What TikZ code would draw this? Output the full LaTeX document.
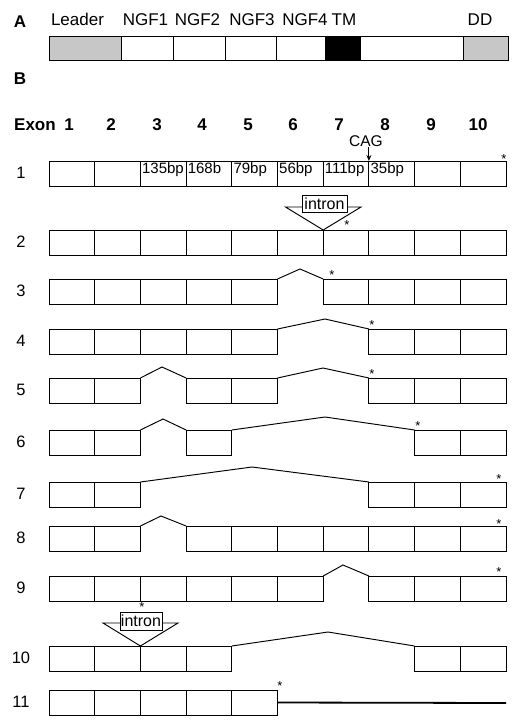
\documentclass[tikz,border=0pt]{standalone}
\usepackage{fontspec}
\setmainfont{Liberation Sans}
\usetikzlibrary{arrows.meta,calc}
\newcommand\exonrow[3]{%
  \foreach \i in {#3}{\node[exon] (r#1e\i) at ({49+45.7*(\i-1)},#2) {};}}
\begin{document}
\begin{tikzpicture}[x=1pt,y=-1pt,
  exon/.style={draw,line width=0.95pt,minimum width=45.7pt,minimum height=25pt,inner sep=0pt,outer sep=0pt,anchor=north west},
  seg/.style={draw,line width=0.95pt,minimum height=24pt,inner sep=0pt,outer sep=0pt,anchor=north west},
  lbl/.style={font=\fontsize{17}{17}\selectfont,anchor=base,inner sep=0pt},
  bld/.style={font=\bfseries\fontsize{17}{17}\selectfont,anchor=base,inner sep=0pt},
  rowlbl/.style={font=\fontsize{16.5}{16.5}\selectfont,anchor=base,inner sep=0pt},
  bp/.style={font=\fontsize{15}{15}\selectfont,anchor=north west,inner sep=0pt},
  star/.style={font=\fontsize{13}{13}\selectfont,inner sep=0pt,anchor=north},
  splice/.style={line width=0.95pt},
  intronbox/.style={draw,fill=white,line width=0.95pt,font=\fontsize{16}{16}\selectfont,minimum height=17pt,inner sep=0pt},
]
\useasboundingbox (0,0) rectangle (525,727);

% ---------- Panel A ----------
\node[bld] (A) at (20,28) {A};
\node[seg,fill=black!22,minimum width=72pt] (lead) at (49,36) {};
\node[seg,minimum width=52pt] (ngf1) at (lead.north east) {};
\node[seg,minimum width=52pt] (ngf2) at (ngf1.north east) {};
\node[seg,minimum width=51pt] (ngf3) at (ngf2.north east) {};
\node[seg,minimum width=49pt] (ngf4) at (ngf3.north east) {};
\node[seg,fill=black,minimum width=35pt] (tm) at (ngf4.north east) {};
\node[seg,minimum width=103pt] (mid) at (tm.north east) {};
\node[seg,fill=black!22,minimum width=45pt] (dd) at (mid.north east) {};
\node[lbl] (tLeader) at (77.5,25.7) {Leader};
\node[lbl] (tN1) at (145.5,25.7) {NGF1};
\node[lbl] (tN2) at (197.5,25.7) {NGF2};
\node[lbl] (tN3) at (252,25.7) {NGF3};
\node[lbl] (tN4) at (305,25.7) {NGF4};
\node[lbl] (tTM) at (344,25.7) {TM};
\node[lbl] (tDD) at (480,25.7) {DD};

% ---------- Panel B ----------
\node[bld] (B) at (20,85) {B};
\node[bld,anchor=base west] (exon) at (14,131) {Exon};
\foreach \n/\x in {1/69,2/111,3/157,4/202,5/248,6/293,7/339,8/385,9/431,10/478}
  \node[bld] (h\n) at (\x,131) {\n};

% row labels
\foreach \r/\y in {1/161,2/230,3/279,4/329,5/378,6/430,7/482,8/526,9/576,10/646,11/690}
  \node[rowlbl] (rl\r) at (21,\y+17.5) {\r};

% exon rows
\exonrow{1}{161}{1,...,10}
\exonrow{2}{230}{1,...,10}
\exonrow{3}{279}{1,2,3,4,5,7,8,9,10}
\exonrow{4}{329}{1,2,3,4,5,8,9,10}
\exonrow{5}{378}{1,2,4,5,8,9,10}
\exonrow{6}{430}{1,2,4,9,10}
\exonrow{7}{482}{1,2,8,9,10}
\exonrow{8}{526}{1,2,4,5,6,7,8,9,10}
\exonrow{9}{576}{1,2,3,4,5,6,8,9,10}
\exonrow{10}{646}{1,2,3,4,9,10}
\exonrow{11}{690}{1,2,3,4,5}

% row 1 sizes
\node[bp] (bp3) at ($(r1e3.north west)+(1.5,1.8)$) {135bp};
\node[bp] (bp4) at ($(r1e4.north west)+(1.5,1.8)$) {168b};
\node[bp] (bp5) at ($(r1e5.north west)+(1.5,1.8)$) {79bp};
\node[bp] (bp6) at ($(r1e6.north west)+(1.5,1.8)$) {56bp};
\node[bp] (bp7) at ($(r1e7.north west)+(1.5,1.8)$) {111bp};
\node[bp] (bp8) at ($(r1e8.north west)+(1.5,1.8)$) {35bp};
\node[lbl,font=\fontsize{15.5}{15.5}\selectfont] (cag) at (366,147) {CAG};
\draw[line width=0.95pt,-{Stealth[length=6pt,width=5pt]}] (cag.south -| r1e8.north west) -- (r1e8.north west);

% row 2 intron insertion
\coordinate (r2tl) at (285.5,207);
\coordinate (r2tr) at (361,207);
\draw[splice] (r2tl) -- (r2e6.north east) -- (r2tr) -- cycle;
\node[intronbox,minimum width=45pt] (in2) at (324.5,203.5) {intron};

% row 10 intron insertion
\coordinate (r10tl) at (103,623);
\coordinate (r10tr) at (178,623);
\draw[splice] (r10tl) -- (r10e2.north east) -- (r10tr) -- cycle;
\node[intronbox,minimum width=42pt,minimum height=18pt] (in10) at (141,621) {intron};

% splice connectors
\coordinate (p3) at (300,269);
\draw[splice] (r3e5.north east) -- (p3) -- (r3e7.north west);
\coordinate (p4) at (325,319);
\draw[splice] (r4e5.north east) -- (p4) -- (r4e8.north west);
\coordinate (p5a) at (162,367);
\coordinate (p5b) at (323,368);
\draw[splice] (r5e2.north east) -- (p5a) -- (r5e4.north west);
\draw[splice] (r5e5.north east) -- (p5b) -- (r5e8.north west);
\coordinate (p6a) at (163,419);
\coordinate (p6b) at (325,417);
\draw[splice] (r6e2.north east) -- (p6a) -- (r6e4.north west);
\draw[splice] (r6e4.north east) -- (p6b) -- (r6e9.north west);
\coordinate (p7) at (252,467);
\draw[splice] (r7e2.north east) -- (p7) -- (r7e8.north west);
\coordinate (p8) at (161,516);
\draw[splice] (r8e2.north east) -- (p8) -- (r8e4.north west);
\coordinate (p9) at (343,565);
\draw[splice] (r9e6.north east) -- (p9) -- (r9e8.north west);
\coordinate (p10) at (328,632);
\draw[splice] (r10e4.north east) -- (p10) -- (r10e9.north west);
\coordinate (r11end) at (506,703);
\draw[line width=1.8pt] (r11e5.east) -- (r11end);

% stop codons
\node[star] (s1) at (504,154.5) {*};
\node[star] (s2) at (347,220.5) {*};
\node[star] (s3) at (332,270.5) {*};
\node[star] (s4) at (372,320.5) {*};
\node[star] (s5) at (372,369.5) {*};
\node[star] (s6) at (418,421.5) {*};
\node[star] (s7) at (499,474.5) {*};
\node[star] (s8) at (499,519.5) {*};
\node[star] (s9) at (499,567.5) {*};
\node[star] (s10) at (142,602.5) {*};
\node[star] (s11) at (280,681.5) {*};
\end{tikzpicture}
\end{document}
